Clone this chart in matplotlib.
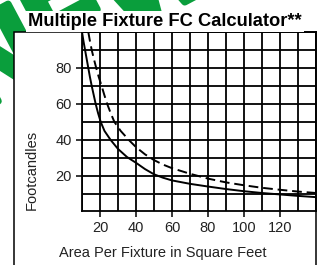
import matplotlib.pyplot as plt
import matplotlib.patheffects as pe
from matplotlib.patches import Rectangle

# values
area_solid = [10, 10.8, 11.7, 12.6, 13.5, 14.4, 15.4, 16.5, 17.6, 18.9, 20.4, 22.5, 25.9, 30, 35,
              40, 45, 50, 55, 60, 70, 80, 90, 100, 110, 120, 130, 140]
fc_solid = [100, 95, 90, 85, 80, 75, 70, 65, 60, 55, 50, 45, 40, 35, 30.5,
            27.3, 23.8, 20.9, 19, 17.5, 15.6, 14.1, 12.7, 11.5, 10.5, 9.7, 8.9, 8.2]
area_dash = [13.5, 14.4, 15.4, 16.6, 17.9, 19.3, 20.9, 22.4, 24, 25.9, 28, 31.5, 36,
             40, 45, 50, 55, 60, 70, 80, 90, 100, 110, 120, 130, 140]
fc_dash = [100, 95, 90, 85, 80, 75, 70, 65, 60, 55, 50, 45, 40,
           36, 32, 28.8, 26.3, 24.3, 21.2, 18.5, 16.4, 14.8, 13.4, 12.3, 11.3, 10.5]
xticks = [20, 40, 60, 80, 100, 120]
yticks = [20, 40, 60, 80]

title = "Multiple Fixture FC Calculator**"
xlabel = "Area Per Fixture in Square Feet"
ylabel = "Footcandles"

plt.rcParams['font.family'] = ['Liberation Sans', 'DejaVu Sans']

fig = plt.figure(figsize=(3.27, 2.65), dpi=100)
W, H = 327.0, 265.0

# green stamp behind the box, mostly hidden
green = '#0a9e3c'
fig.text(-22 / W, 1 - 112 / H, "NEW", fontsize=85, fontweight='bold', color=green,
         rotation=28, rotation_mode='anchor', ha='left', va='baseline', zorder=0,
         path_effects=[pe.withStroke(linewidth=5, foreground=green)])

box = Rectangle((14 / W, -0.2), (316 - 14) / W, 0.2 + 1 - 32 / H, transform=fig.transFigure,
                facecolor='white', edgecolor='black', linewidth=1.1, zorder=1)
fig.patches.append(box)

ax = fig.add_axes([82 / W, 1 - 211 / H, (316 - 82) / W, (211 - 32) / H])
ax.set_zorder(2)
ax.plot(area_solid, fc_solid, color='black', linewidth=1.4, zorder=3)
ax.plot(area_dash, fc_dash, color='black', linewidth=1.4, dashes=(5, 2.5), zorder=3)

ax.set_xlim(10, 139.7)
ax.set_ylim(0.5, 100)
ax.set_xticks(xticks)
ax.set_yticks(yticks)
ax.set_xticks(range(10, 141, 10), minor=True)
ax.set_yticks(range(10, 101, 10), minor=True)
ax.grid(True, which='both', color='black', linewidth=1.3)
ax.set_axisbelow(True)
ax.tick_params(which='minor', length=0)
ax.tick_params(which='major', length=4.3, width=1.1, labelsize=10.5, labelcolor='#222', pad=3)
for s in ax.spines.values():
    s.set_linewidth(1.3)

fig.text(165 / W, 1 - 26 / H, title, fontsize=13.2, fontweight='bold', ha='center', va='baseline',
         bbox=dict(facecolor='white', edgecolor='none', pad=1.5), zorder=5)
fig.text(163 / W, 1 - 253 / H, xlabel, fontsize=10.5, color='#222', ha='center', va='center')
fig.text(32 / W, 1 - 170 / H, ylabel, fontsize=10.5, color='#222', ha='center', va='center', rotation=90)

fig.savefig('out.png', dpi=100)
